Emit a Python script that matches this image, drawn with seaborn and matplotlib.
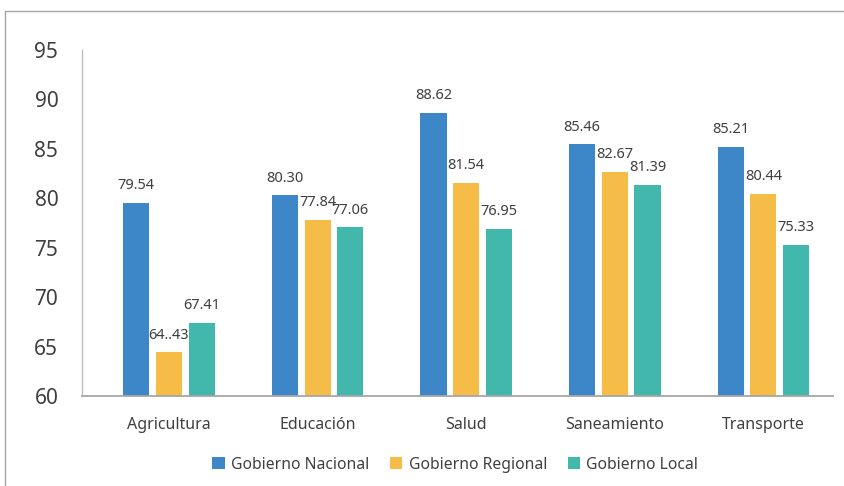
import pandas as pd
import numpy as np
import seaborn as sns
import matplotlib.pyplot as plt
from matplotlib.lines import Line2D

# data
sectores = ['Agricultura', 'Educación', 'Salud', 'Saneamiento', 'Transporte']
nacional = [79.54, 80.30, 88.62, 85.46, 85.21]
regional = [64.43, 77.84, 81.54, 82.67, 80.44]
local = [67.41, 77.06, 76.95, 81.39, 75.33]
etiquetas_nacional = ['79.54', '80.30', '88.62', '85.46', '85.21']
etiquetas_regional = ['64..43', '77.84', '81.54', '82.67', '80.44']
etiquetas_local = ['67.41', '77.06', '76.95', '81.39', '75.33']
series = ['Gobierno Nacional', 'Gobierno Regional', 'Gobierno Local']
colores = ['#3D87C8', '#F5BC47', '#42B8AC']

df = pd.DataFrame({
    'sector': sectores * 3,
    'valor': nacional + regional + local,
    'nivel': [s for s in series for _ in sectores],
})

sns.set_style('white')
plt.rcParams['font.family'] = ['Noto Sans', 'DejaVu Sans']

fig = plt.figure(figsize=(8.45, 4.86), dpi=100)
ax = fig.add_axes([0.097, 0.185, 0.889, 0.712])

sns.barplot(data=df, x='sector', y='valor', hue='nivel', palette=colores,
            width=0.66, gap=0.2, ax=ax, saturation=1, linewidth=0)

for cont, labs in zip(ax.containers, [etiquetas_nacional, etiquetas_regional, etiquetas_local]):
    ax.bar_label(cont, labels=labs, padding=7, fontsize=10.5, color='#404040')

ax.set_ylim(60, 95)
ax.set_xlim(-0.586, 4.47)
ax.set_yticks(range(60, 96, 5))
ax.set_xlabel('')
ax.set_ylabel('')
ax.tick_params(axis='y', labelsize=15, colors='#404040', length=0, pad=17)
ax.tick_params(axis='x', labelsize=11.5, colors='#404040', length=0, pad=15)

for s in ['top', 'right']:
    ax.spines[s].set_visible(False)
ax.spines['left'].set_color('#BFBFBF')
ax.spines['bottom'].set_color('#A6A6A6')
ax.spines['left'].set_linewidth(1)
ax.spines['bottom'].set_linewidth(1.3)

ax.legend(loc='upper center', bbox_to_anchor=(0.497, -0.135), ncol=3, frameon=False,
          fontsize=11.3, handlelength=0.8, handleheight=0.8, columnspacing=1.3,
          handletextpad=0.4, labelcolor='#404040')

# outer frame (top and left edges)
fig.add_artist(Line2D([5 / 845, 1], [1 - 11 / 486, 1 - 11 / 486], color='#A6A6A6', lw=1))
fig.add_artist(Line2D([5 / 845, 5 / 845], [0, 1 - 11 / 486], color='#A6A6A6', lw=1))

plt.savefig('out.png', dpi=100)
